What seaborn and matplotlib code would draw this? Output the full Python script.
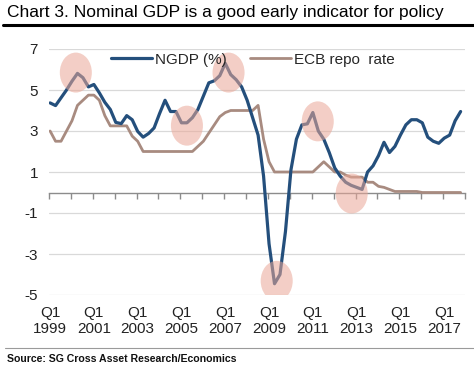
import numpy as np
import pandas as pd
import matplotlib
matplotlib.use("Agg")
import matplotlib.pyplot as plt
from matplotlib.patches import Ellipse
from matplotlib.lines import Line2D
import seaborn as sns

sns.set_style("white")
plt.rcParams["font.family"] = ["Liberation Sans", "DejaVu Sans"]

# -----------------------------
# DATA (quarterly, 1999Q1 - 2017Q4)
# -----------------------------
years = list(range(1999, 2018))
quarters = [f"{y}Q{q}" for y in years for q in range(1, 5)]

ngdp = [4.37, 4.24, 4.62, 5.0, 5.43, 5.81, 5.6, 5.15,
        5.27, 4.86, 4.4, 4.05, 3.42, 3.36, 3.75, 3.55,
        2.98, 2.7, 2.88, 3.15, 3.85, 4.5, 3.95, 3.95,
        3.4, 3.4, 3.65, 4.05, 4.7, 5.35, 5.45, 5.7,
        6.3, 5.75, 5.5, 5.15, 4.5, 3.65, 2.8, 0.8,
        -2.5, -4.45, -4.0, -1.9, 1.1, 2.6, 3.3, 3.35,
        3.9, 3.0, 2.6, 1.95, 1.2, 0.8, 0.5, 0.35,
        0.25, 0.15, 1.0, 1.3, 1.8, 2.45, 1.95, 2.25,
        2.8, 3.3, 3.55, 3.55, 3.4, 2.7, 2.5, 2.4,
        2.65, 2.8, 3.5, 3.95]

ecb = [3.0, 2.5, 2.5, 3.0, 3.5, 4.25, 4.5, 4.75,
       4.75, 4.5, 3.75, 3.25, 3.25, 3.25, 3.25, 2.75,
       2.5, 2.0, 2.0, 2.0, 2.0, 2.0, 2.0, 2.0,
       2.0, 2.0, 2.0, 2.25, 2.5, 2.9, 3.3, 3.7,
       3.9, 4.0, 4.0, 4.0, 4.0, 4.0, 4.25, 2.6,
       1.5, 1.0, 1.0, 1.0, 1.0, 1.0, 1.0, 1.0,
       1.0, 1.25, 1.5, 1.25, 1.0, 1.0, 0.85, 0.75,
       0.75, 0.75, 0.5, 0.5, 0.3, 0.25, 0.15, 0.05,
       0.05, 0.05, 0.05, 0.05, 0.0, 0.0, 0.0, 0.0,
       0.0, 0.0, 0.0, 0.0]

# highlighted turning points (quarter position, value)
highlight_q = [4.7, 25.0, 32.6, 41.4, 48.9, 55.1]
highlight_val = [5.85, 3.26, 5.85, -4.31, 3.47, -0.05]

label_years = [1999, 2001, 2003, 2005, 2007, 2009, 2011, 2013, 2015, 2017]
yticks = [7, 5, 3, 1, -1, -3, -5]

df = pd.DataFrame({"q": np.arange(len(quarters)), "quarter": quarters,
                   "NGDP (%)": ngdp, "ECB repo  rate": ecb})

# -----------------------------
# PLOT
# -----------------------------
blue = "#244f7c"
brown = "#a88b80"
grid_c = "#d9d9d9"
axis_c = "#8c8c8c"

fig = plt.figure(figsize=(4.74, 3.68), dpi=100)
ax = fig.add_axes([49 / 474, 1 - 295 / 368, 416 / 474, 246 / 368])

sns.lineplot(data=df, x="q", y="NGDP (%)", ax=ax, color=blue, lw=2.3,
             label="NGDP (%)", zorder=3)
sns.lineplot(data=df, x="q", y="ECB repo  rate", ax=ax, color=brown, lw=2.0,
             label="ECB repo  rate", zorder=2)

for qx, val in zip(highlight_q, highlight_val):
    ax.add_patch(Ellipse((qx, val), width=5.85, height=1.95,
                         facecolor="#eaa797", alpha=0.55, edgecolor="none", zorder=4))

ymin, ymax = -5, 7
ax.set_xlim(-0.2, 75.8)
ax.set_ylim(ymin, ymax)
ax.set_yticks(yticks)
ax.set_yticklabels([str(t) for t in yticks])
ax.set_xticks([quarters.index(f"{y}Q1") for y in label_years])
ax.set_xticklabels([f"Q1\n{y}" for y in label_years])
ax.set_xlabel("")
ax.set_ylabel("")
ax.grid(axis="y", color=grid_c, lw=0.9)
ax.grid(axis="x", visible=False)
for s in ["top", "right", "left", "bottom"]:
    ax.spines[s].set_visible(False)
ax.tick_params(axis="both", length=0, labelsize=11, colors="#222222")
ax.tick_params(axis="x", pad=8)
ax.tick_params(axis="y", pad=8)

# zero line with yearly tick marks
zero = ax.secondary_xaxis((0 - ymin) / (ymax - ymin))
zero.set_xticks(np.arange(-0.2, 76, 4))
zero.set_xticklabels([])
zero.tick_params(direction="out", length=4, width=1, color=axis_c)
zero.spines["bottom"].set_color(axis_c)
zero.spines["bottom"].set_linewidth(1)

ax.legend(loc="center", bbox_to_anchor=(0.49, 0.957), ncol=2, frameon=False,
          handlelength=2.7, handletextpad=0.2, columnspacing=1.5, fontsize=11)

# title, rules and source
fig.text(7 / 474, 1 - 12 / 368, "Chart 3. Nominal GDP is a good early indicator for policy",
         fontsize=12.5, va="center", ha="left", color="black")
fig.add_artist(Line2D([3 / 474, 1], [1 - 25 / 368, 1 - 25 / 368], color="black", lw=2.2))
fig.add_artist(Line2D([5 / 474, 1], [1 - 348 / 368, 1 - 348 / 368], color="#9a9a9a", lw=0.8))
fig.text(7 / 474, 1 - 359 / 368, "Source: SG Cross Asset Research/Economics",
         fontsize=7.6, fontweight="bold", va="center", ha="left", color="#111111")

fig.savefig("out.png", dpi=100)
